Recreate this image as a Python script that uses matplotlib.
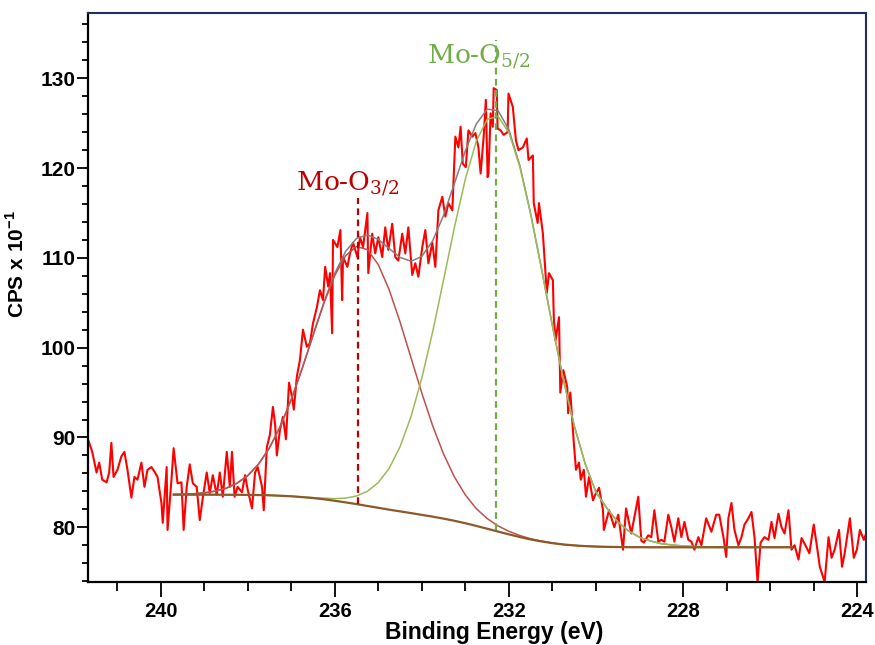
import matplotlib
matplotlib.use("Agg")
import matplotlib.pyplot as plt
import numpy as np
from matplotlib.ticker import MultipleLocator

# raw Mo 3d spectrum (binding energy in eV, counts in CPS x 10^-1)
energy = [
    241.68, 241.57, 241.47, 241.41, 241.34, 241.24, 241.18, 241.13, 241.08, 240.99,
    240.90, 240.83, 240.76, 240.67, 240.60, 240.53, 240.44, 240.37, 240.30, 240.21,
    240.14, 240.07, 239.98, 239.95, 239.86, 239.84, 239.75, 239.70, 239.61, 239.52,
    239.47, 239.40, 239.33, 239.26, 239.17, 239.10, 239.03, 238.94, 238.87, 238.80,
    238.71, 238.64, 238.57, 238.48, 238.41, 238.36, 238.30, 238.23, 238.13, 238.06,
    238.00, 237.90, 237.83, 237.77, 237.67, 237.63, 237.56, 237.49, 237.42, 237.37,
    237.33, 237.26, 237.19, 237.12, 237.05, 236.98, 236.94, 236.87, 236.80, 236.73,
    236.64, 236.57, 236.50, 236.41, 236.34, 236.27, 236.22, 236.15, 236.11, 236.06,
    236.04, 235.94, 235.87, 235.83, 235.81, 235.71, 235.65, 235.58, 235.48, 235.42,
    235.35, 235.25, 235.23, 235.14, 235.07, 235.00, 234.91, 234.84, 234.77, 234.68,
    234.61, 234.54, 234.45, 234.38, 234.31, 234.22, 234.15, 234.08, 233.99, 233.92,
    233.85, 233.76, 233.69, 233.62, 233.53, 233.46, 233.39, 233.30, 233.23, 233.16,
    233.11, 233.06, 232.99, 232.93, 232.84, 232.77, 232.70, 232.65, 232.58, 232.53,
    232.49, 232.47, 232.42, 232.37, 232.35, 232.28, 232.26, 232.19, 232.12, 232.03,
    232.01, 231.91, 231.84, 231.78, 231.68, 231.59, 231.55, 231.45, 231.43, 231.34,
    231.31, 231.22, 231.17, 231.13, 231.08, 230.99, 230.97, 230.93, 230.85, 230.82,
    230.75, 230.66, 230.64, 230.59, 230.51, 230.46, 230.39, 230.35, 230.28, 230.23,
    230.16, 230.07, 230.00, 229.93, 229.84, 229.82, 229.70, 229.58, 229.49, 229.38,
    229.31, 229.19, 229.03, 228.96, 228.90, 228.80, 228.73, 228.66, 228.57, 228.50,
    228.43, 228.34, 228.27, 228.20, 228.11, 228.04, 227.97, 227.88, 227.81, 227.74,
    227.65, 227.58, 227.47, 227.35, 227.24, 227.17, 227.07, 227.01, 226.96, 226.89,
    226.82, 226.73, 226.66, 226.59, 226.50, 226.43, 226.36, 226.29, 226.22, 226.13,
    226.04, 225.97, 225.90, 225.81, 225.74, 225.67, 225.58, 225.51, 225.44, 225.35,
    225.28, 225.17, 225.10, 225.00, 224.93, 224.86, 224.75, 224.66, 224.59, 224.52,
    224.42, 224.35, 224.29, 224.17, 224.08, 224.01, 223.94, 223.85, 223.78, 223.71,
]
counts = [
    90.0, 88.4, 86.1, 87.2, 85.3, 85.0, 86.1, 89.4, 85.6, 86.4,
    87.9, 88.4, 86.4, 83.3, 85.6, 85.3, 87.2, 84.5, 86.4, 86.7,
    86.2, 85.6, 82.7, 80.5, 86.7, 79.7, 85.3, 88.8, 84.9, 85.0,
    79.7, 84.5, 87.0, 84.9, 84.5, 80.8, 83.3, 86.1, 83.8, 85.8,
    83.6, 86.1, 83.4, 88.4, 84.5, 88.4, 83.4, 84.5, 83.9, 85.8,
    84.2, 82.1, 86.1, 86.7, 84.5, 81.9, 88.9, 90.3, 93.4, 91.5,
    88.0, 90.8, 92.3, 89.8, 96.1, 94.5, 93.1, 96.8, 98.6, 102.0,
    100.1, 100.5, 102.7, 104.5, 106.4, 105.3, 109.0, 106.8, 108.3, 101.6,
    112.0, 111.2, 113.1, 105.3, 110.1, 109.0, 110.5, 111.7, 110.1, 112.3,
    111.2, 115.0, 108.3, 112.7, 110.5, 112.3, 110.1, 113.4, 110.9, 113.8,
    110.1, 109.7, 112.7, 110.5, 113.4, 108.1, 109.4, 107.9, 111.2, 113.1,
    109.4, 111.7, 109.0, 115.3, 116.8, 114.6, 116.1, 115.3, 123.5, 122.3,
    124.6, 120.5, 120.1, 124.2, 123.5, 123.9, 122.3, 119.4, 123.5, 127.6,
    119.0, 119.4, 126.1, 124.6, 128.9, 128.7, 124.4, 124.2, 123.7, 124.0,
    128.3, 126.8, 123.1, 122.0, 122.3, 123.3, 120.9, 121.4, 116.1, 113.9,
    116.1, 112.7, 109.0, 106.1, 108.3, 107.5, 103.4, 100.8, 103.4, 95.0,
    97.5, 95.6, 92.7, 95.0, 89.4, 86.4, 87.2, 85.3, 86.4, 83.4,
    85.6, 83.0, 83.8, 84.4, 81.9, 79.7, 81.9, 80.0, 81.4, 77.5,
    82.1, 79.3, 83.4, 78.5, 78.3, 79.1, 78.9, 81.9, 78.4, 78.6,
    78.4, 81.4, 80.0, 78.4, 81.0, 78.9, 80.6, 78.6, 78.4, 77.5,
    78.9, 78.0, 81.0, 79.5, 81.4, 81.4, 78.8, 76.7, 81.0, 82.7,
    79.7, 78.0, 78.9, 80.3, 81.0, 81.7, 78.9, 73.9, 78.3, 78.9,
    78.6, 80.6, 78.8, 81.5, 80.0, 79.3, 81.9, 77.5, 78.0, 76.4,
    78.8, 77.8, 77.1, 80.3, 78.0, 75.6, 73.9, 78.9, 76.6, 77.5,
    79.7, 75.6, 77.1, 81.0, 76.6, 77.5, 79.7, 78.6, 79.5, 77.8,
]

# fit: energy grid, Shirley background and the two component peaks above it
fit_energy = [
    239.70, 239.50, 239.25, 239.00, 238.75, 238.50, 238.25, 238.00, 237.75, 237.50,
    237.25, 237.00, 236.75, 236.50, 236.25, 236.00, 235.75, 235.50, 235.25, 235.00,
    234.75, 234.50, 234.25, 234.00, 233.75, 233.50, 233.25, 233.00, 232.75, 232.50,
    232.25, 232.00, 231.75, 231.50, 231.25, 231.00, 230.75, 230.50, 230.25, 230.00,
    229.75, 229.50, 229.25, 229.00, 228.75, 228.50, 228.25, 228.00, 227.75, 227.50,
    227.25, 227.00, 226.75, 226.50, 226.25, 226.00, 225.75, 225.50,
]
background = [
    83.63, 83.63, 83.63, 83.63, 83.63, 83.62, 83.62, 83.60, 83.59, 83.56,
    83.51, 83.45, 83.36, 83.25, 83.12, 82.95, 82.77, 82.58, 82.37, 82.17,
    81.96, 81.77, 81.58, 81.38, 81.18, 80.96, 80.72, 80.45, 80.15, 79.84,
    79.52, 79.21, 78.91, 78.64, 78.42, 78.23, 78.08, 77.98, 77.90, 77.85,
    77.82, 77.80, 77.78, 77.78, 77.77, 77.77, 77.77, 77.77, 77.77, 77.77,
    77.77, 77.77, 77.77, 77.77, 77.77, 77.77, 77.77, 77.77,
]
peak_32 = [
    0.02, 0.04, 0.10, 0.20, 0.39, 0.71, 1.27, 2.14, 3.44, 5.28,
    7.72, 10.76, 14.29, 18.08, 21.81, 25.08, 27.48, 28.69, 28.55, 27.08,
    24.48, 21.09, 17.32, 13.55, 10.11, 7.18, 4.87, 3.14, 1.93, 1.13,
    0.63, 0.34, 0.17, 0.08, 0.04, 0.02, 0.0, 0.0, 0.0, 0.0,
    0.0, 0.0, 0.0, 0.0, 0.0, 0.0, 0.0, 0.0, 0.0, 0.0,
    0.0, 0.0, 0.0, 0.0, 0.0, 0.0, 0.0, 0.0,
]
peak_52 = [
    0.0, 0.0, 0.0, 0.0, 0.0, 0.0, 0.0, 0.0, 0.0, 0.0,
    0.0, 0.01, 0.02, 0.05, 0.12, 0.24, 0.48, 0.90, 1.63, 2.81,
    4.60, 7.20, 10.72, 15.24, 20.62, 26.61, 32.72, 38.35, 42.83, 45.59,
    46.25, 44.73, 41.22, 36.20, 30.30, 24.17, 18.38, 13.32, 9.20, 6.05,
    4.30, 2.80, 1.80, 1.10, 0.70, 0.40, 0.25, 0.15, 0.08, 0.04,
    0.0, 0.0, 0.0, 0.0, 0.0, 0.0, 0.0, 0.0,
]

# peak position markers: (BE, bottom, top)
marker_32 = (235.46, 82.6, 116.7)
marker_52 = (232.30, 79.7, 134.3)

plt.rcParams['font.family'] = ['Liberation Sans', 'DejaVu Sans']
plt.rcParams['mathtext.fontset'] = 'custom'
plt.rcParams['mathtext.rm'] = 'DejaVu Serif'
plt.rcParams['mathtext.bf'] = 'Liberation Sans:bold'

fig = plt.figure(figsize=(8.75, 6.45), dpi=100)
ax = fig.add_axes([0.1009, 0.0972, 0.8888, 0.8822])

bg = np.array(background)
comp_32 = bg + np.array(peak_32)
comp_52 = bg + np.array(peak_52)
envelope = bg + np.array(peak_32) + np.array(peak_52)

ax.plot(energy, counts, color='#ff0000', lw=1.5, zorder=2)
ax.plot(fit_energy, envelope, color='#808080', lw=1.1, zorder=3)
ax.plot(fit_energy, comp_32, color='#c0504d', lw=1.1, zorder=4)
ax.plot(fit_energy, comp_52, color='#9bbb59', lw=1.1, zorder=4)
ax.plot(fit_energy, background, color='#8c5a28', lw=1.6, zorder=5)

ax.plot([marker_32[0]] * 2, marker_32[1:], color='#c00000', lw=1.6,
        ls=(0, (3, 2)), zorder=6)
ax.plot([marker_52[0]] * 2, marker_52[1:], color='#70ad47', lw=1.6,
        ls=(0, (3, 2)), zorder=6)

ax.text(236.89, 117.56, 'Mo-O$_{\\mathrm{3/2}}$', color='#c00000',
        family='DejaVu Serif', fontsize=19, ha='left', va='baseline')
ax.text(233.87, 131.7, 'Mo-O$_{\\mathrm{5/2}}$', color='#70ad47',
        family='DejaVu Serif', fontsize=19, ha='left', va='baseline')

ax.set_xlim(241.66, 223.80)
ax.set_ylim(73.87, 137.24)

ax.xaxis.set_major_locator(MultipleLocator(4))
ax.xaxis.set_minor_locator(MultipleLocator(1))
ax.yaxis.set_major_locator(MultipleLocator(10))
ax.yaxis.set_minor_locator(MultipleLocator(2))

ax.tick_params(axis='x', which='major', direction='out', length=11, width=1.3,
               pad=3, labelsize=14.5)
ax.tick_params(axis='x', which='minor', direction='out', length=6.5, width=1.3)
ax.tick_params(axis='y', which='major', direction='out', length=8, width=1.3,
               pad=1, labelsize=15)
ax.tick_params(axis='y', which='minor', direction='out', length=4, width=1.3)
for lab in ax.get_xticklabels() + ax.get_yticklabels():
    lab.set_fontweight('bold')

for side in ['left', 'bottom']:
    ax.spines[side].set_linewidth(1.6)
    ax.spines[side].set_color('black')
for side in ['top', 'right']:
    ax.spines[side].set_linewidth(1.5)
    ax.spines[side].set_color('#1f2f5f')

ax.set_xlabel('Binding Energy (eV)', fontsize=16.5, fontweight='bold')
ax.xaxis.set_label_coords(0.522, -0.068)
ax.set_ylabel('CPS x 10$^{\\mathbf{-1}}$', fontsize=15, fontweight='bold')
ax.yaxis.set_label_coords(-0.078, 0.56)

fig.savefig('out.png', dpi=100)
